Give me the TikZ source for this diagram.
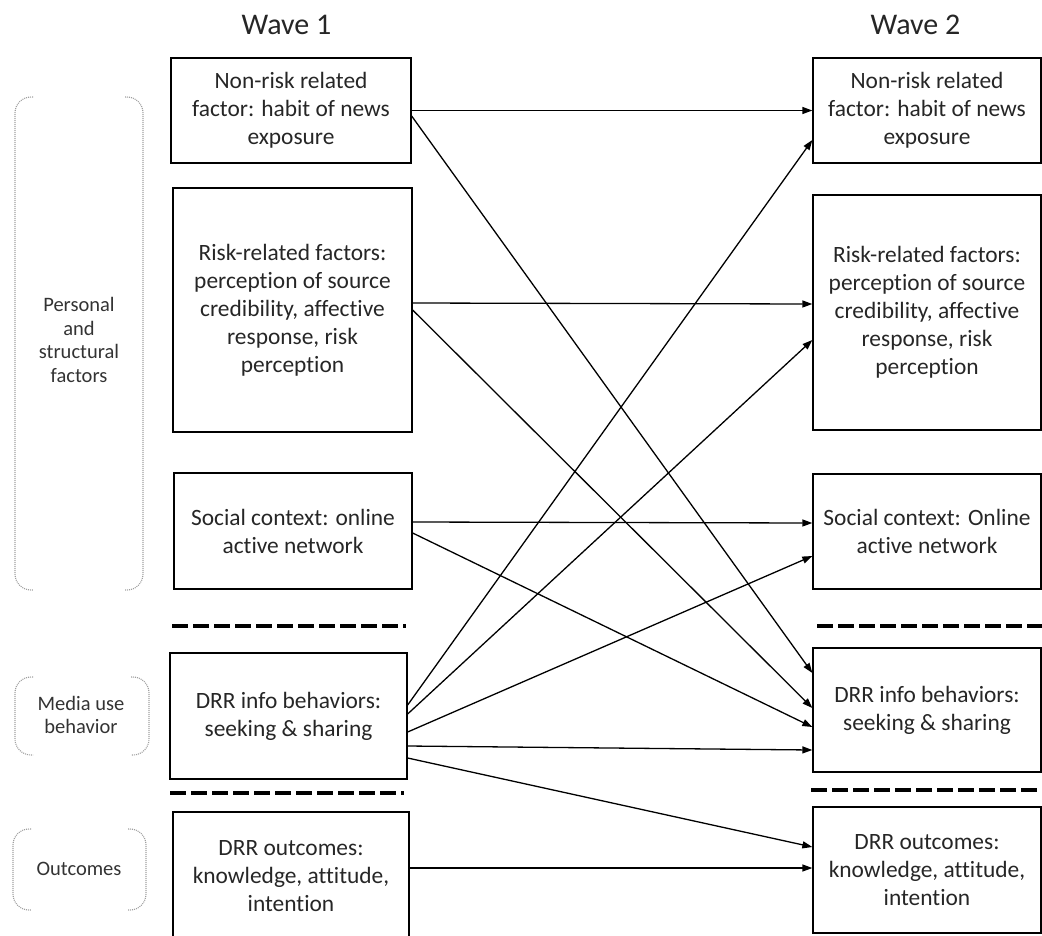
\documentclass[tikz,border=0pt]{standalone}
\usepackage{fontspec}
\setmainfont{Carlito}[Ligatures=NoCommon]
\usetikzlibrary{arrows.meta}

\begin{document}
\begin{tikzpicture}
      [x=1pt,y=-1pt
      ,box/.style={draw=black,line width=1.3pt,align=center,inner sep=0,text=black!85,font=\fontsize{23.4}{28}\selectfont}
      ,lab/.style={align=center,text=black!80,font=\fontsize{20.5}{23.5}\selectfont}
      ,ttl/.style={text=black!85,font=\fontsize{30}{36}\selectfont}
      ,lin/.style={line width=1.3pt,-{Triangle[length=10pt,width=7pt]}}
      ,brk/.style={draw=gray!75,line width=1.1pt,dash pattern=on 1pt off 1pt,rounded corners=16pt}
      ,sep/.style={line width=3.5pt,dash pattern=on 16pt off 5pt}]
        \useasboundingbox (0,0) rectangle (1042,935);
        \node[ttl] (w1) at (286.5,25) {Wave 1};
        \node[ttl] (w2) at (915.5,25) {Wave 2};
        % wave 1
        \node[box,minimum width=240pt,minimum height=105pt] (L1) at (291,110.5)
             {Non-risk related\\factor: habit of news\\exposure};
        \node[box,minimum width=239pt,minimum height=244pt] (L2) at (292.5,310)
             {Risk-related factors:\\perception of source\\credibility, affective\\response, risk\\perception};
        \node[box,minimum width=238pt,minimum height=116pt] (L3) at (293,531)
             {Social context: online\\active network};
        \node[box,minimum width=237pt,minimum height=126pt] (L4) at (288.5,716)
             {DRR info behaviors:\\seeking \& sharing};
        \node[box,minimum width=236pt,minimum height=128pt] (L5) at (291,876)
             {DRR outcomes:\\knowledge, attitude,\\intention};
        % wave 2
        \node[box,minimum width=228pt,minimum height=105pt] (R1) at (927,110.5)
             {Non-risk related\\factor: habit of news\\exposure};
        \node[box,minimum width=228pt,minimum height=235pt] (R2) at (927,312.5)
             {Risk-related factors:\\perception of source\\credibility, affective\\response, risk\\perception};
        \node[box,minimum width=228pt,minimum height=115pt] (R3) at (927,531.5)
             {Social context: Online\\active network};
        \node[box,minimum width=228pt,minimum height=124pt] (R4) at (927,710)
             {DRR info behaviors:\\seeking \& sharing};
        \node[box,minimum width=228pt,minimum height=126pt] (R5) at (927,870)
             {DRR outcomes:\\knowledge, attitude,\\intention};
        % separators
        \draw[sep] (172,626) -- (406,626);
        \draw[sep] (170,793) -- (404,793);
        \draw[sep] (817,626) -- (1042,626);
        \draw[sep] (811,790) -- (1042,790);
        % brackets
        \foreach \xa/\ya/\xb/\yb in {15/97/143/590,15/677/149/755,13/829/146/910}{
          \draw[brk] (\xa+18,\ya) -- (\xa,\ya) -- (\xa,\yb) -- (\xa+18,\yb);
          \draw[brk] (\xb-18,\ya) -- (\xb,\ya) -- (\xb,\yb) -- (\xb-18,\yb);
        }
        \node[lab] (pf) at (79,340) {Personal\\and\\structural\\factors};
        \node[lab] (mu) at (81,715) {Media use\\behavior};
        \node[lab] (oc) at (79,869) {Outcomes};
        % paths
        \foreach \a/\sa/\b/\sb in {L1/0/R1/0,L1/-5.5/R4/37,L2/7/R2/8.5,L2/0/R4/2
                                  ,L3/9/R3/8.5,L3/-2/R4/-17,L4/11/R1/-29.5,L4/2/R2/-27.5
                                  ,L4/-16/R3/-24.5,L4/-30/R4/-40,L4/-42/R5/23,L5/8/R5/2}{
          \draw[lin] ([yshift=\sa pt]\a.east) -- ([yshift=\sb pt]\b.west);
        }
      \end{tikzpicture}
\end{document}
